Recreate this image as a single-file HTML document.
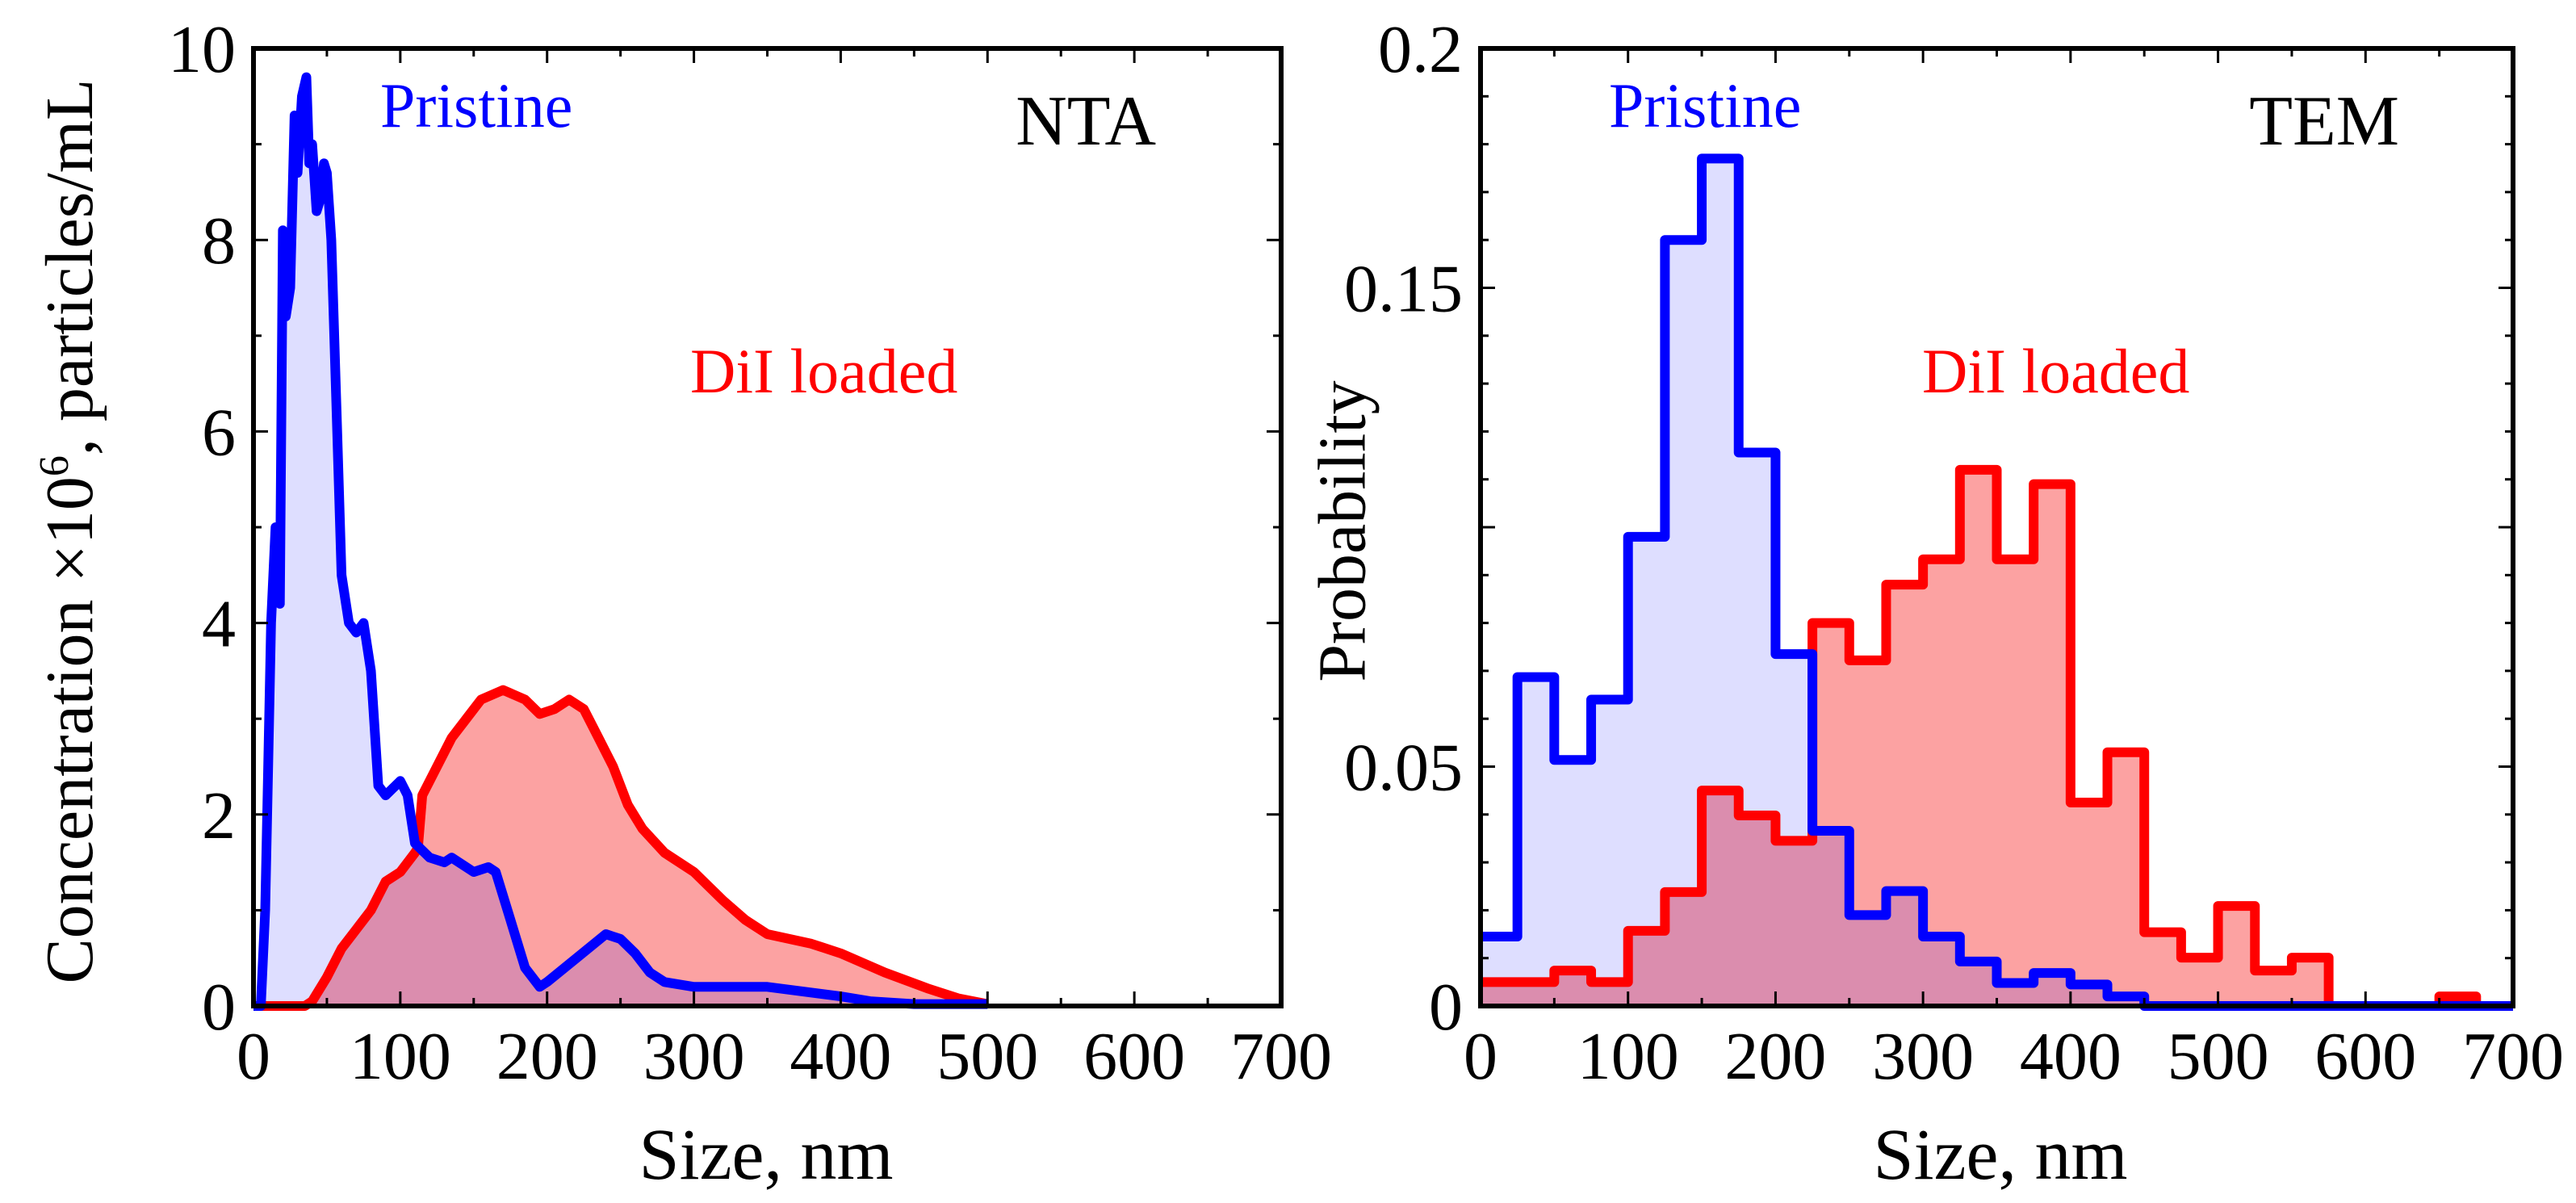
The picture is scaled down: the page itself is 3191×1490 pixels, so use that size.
<!DOCTYPE html>
<html><head><meta charset="utf-8"><style>
html,body{margin:0;padding:0;background:#fff;}
svg{display:block;font-family:"Liberation Serif",serif;}
</style></head><body>
<svg id="chart" width="3191" height="1490" viewBox="0 0 3191 1490" xmlns="http://www.w3.org/2000/svg">
<text x="114" y="658" font-size="84" text-anchor="middle" transform="rotate(-90 114 658)">Concentration ×10<tspan dy="-30" font-size="52">6</tspan><tspan dy="30">, particles/mL</tspan></text>
<text x="949" y="1460" font-size="90" text-anchor="middle">Size, nm</text>
<text x="1671" y="658" font-size="84" text-anchor="middle" transform="rotate(-90 1671 658)" dominant-baseline="middle">Probability</text>
<text x="2478" y="1460" font-size="90" text-anchor="middle">Size, nm</text>
<text x="471" y="157" font-size="78" fill="#0000ff">Pristine</text>
<text x="1432" y="179" font-size="88" text-anchor="end">NTA</text>
<text x="855" y="486" font-size="78" fill="#ff0000">DiI loaded</text>
<text x="1993" y="157" font-size="78" fill="#0000ff">Pristine</text>
<text x="2972" y="179" font-size="88" text-anchor="end">TEM</text>
<text x="2381" y="486" font-size="78" fill="#ff0000">DiI loaded</text>
</svg>
<script>
// NTA data (size nm, concentration x1e6)
const ntaPristineX = [0,5,8,10,12,15,18,20,22,25,28,30,33,36,38,40,43,45,48,50,53,57,60,65,70,75,80,85,90,100,105,110,120,130,135,150,160,165,175,185,195,200,220,240,250,260,270,280,300,350,400,420,450,500];
const ntaPristineY = [0,0,1,2.5,4,5,4.2,8.1,7.2,7.5,9.3,8.7,9.5,9.7,8.8,9.0,8.3,8.4,8.8,8.7,8.0,6,4.5,4,3.9,4.0,3.5,2.3,2.2,2.35,2.2,1.7,1.55,1.5,1.55,1.4,1.45,1.4,0.9,0.4,0.2,0.25,0.5,0.75,0.7,0.55,0.35,0.25,0.2,0.2,0.1,0.05,0.02,0.02];
const ntaDilX = [0,35,40,50,60,70,80,90,100,110,112,115,125,135,145,155,170,185,195,205,215,225,235,245,255,265,280,300,320,335,350,380,400,430,460,480,500];
const ntaDilY = [0,0,0.05,0.3,0.6,0.8,1.0,1.3,1.4,1.6,1.65,2.2,2.5,2.8,3.0,3.2,3.3,3.2,3.05,3.1,3.2,3.1,2.8,2.5,2.1,1.85,1.6,1.4,1.1,0.9,0.75,0.65,0.55,0.35,0.18,0.08,0.02];
// TEM histograms, 25 nm bins starting at 0
const temBinEdges = [0,25,50,75,100,125,150,175,200,225,250,275,300,325,350,375,400,425,450,475,500,525,550,575,600,625,650,675,700];
const temPristine = [0.0145,0.0687,0.0514,0.064,0.098,0.16,0.177,0.1156,0.0735,0.0366,0.019,0.024,0.0145,0.0093,0.0048,0.0069,0.0045,0.002,0,0,0,0,0,0,0,0,0,0];
const temDil = [0.005,0.005,0.0074,0.005,0.0157,0.0238,0.045,0.0398,0.0345,0.08,0.0722,0.088,0.0933,0.112,0.0933,0.109,0.0425,0.053,0.0154,0.0101,0.0209,0.0074,0.0101,0,0,0,0.002,0];
const ntaYTicks = ["0","2","4","6","8","10"];
const temYTicks = ["0","0.05","","0.15","0.2"];
const xTicks = ["0","100","200","300","400","500","600","700"];

const NS="http://www.w3.org/2000/svg";
const svg=document.getElementById('chart');
function mk(tag,attrs,parent){const e=document.createElementNS(NS,tag);for(const k in attrs)e.setAttribute(k,attrs[k]);(parent||svg).appendChild(e);return e;}

function panel(left,right,top,bottom,ymax,yMinorStep,yMajorStep,yLabels,name){
  const sx=v=>left+(v/700)*(right-left);
  const sy=v=>bottom-(v/ymax)*(bottom-top);
  const g=mk('g',{});
  
  
  return {sx,sy,g,left,right,top,bottom,ymax,yMinorStep,yMajorStep,yLabels,name};
}
function axes(p){
  const a=mk('g',{stroke:'#000','stroke-width':3});
  
  
  for(let i=0;i<=14;i++){const x=p.sx(i*50);const L=i%2?10:18;
    mk('line',{x1:x,x2:x,y1:p.bottom,y2:p.bottom-L},a);mk('line',{x1:x,x2:x,y1:p.top,y2:p.top+L},a);}
  const n=Math.round(p.ymax/p.yMinorStep);const per=Math.round(p.yMajorStep/p.yMinorStep);
  for(let i=0;i<=n;i++){const y=p.sy(i*p.yMinorStep);const L=i%per?10:18;
    mk('line',{x1:p.left,x2:p.left+L,y1:y,y2:y},a);mk('line',{x1:p.right,x2:p.right-L,y1:y,y2:y},a);}
  const r=mk('rect',{x:p.left,y:p.top,width:p.right-p.left,height:p.bottom-p.top,fill:'none',stroke:'#000','stroke-width':6});
  
  
  xTicks.forEach((t,i)=>{const e=mk('text',{x:p.sx(i*100),y:1336,'font-size':84,'text-anchor':'middle'});e.textContent=t;
    
    });
  p.yLabels.forEach((t,i)=>{if(!t)return;const e=mk('text',{x:p.left-22,y:p.sy(i*p.yMajorStep)+29,'font-size':84,'text-anchor':'end'});e.textContent=t;
    
    });
}
// NTA
const A=panel(314,1587,60,1246,10,1,2,ntaYTicks,'nta');
function curve(xs,ys,p){return xs.map((x,i)=>p.sx(x).toFixed(1)+','+p.sy(ys[i]).toFixed(1));}
const dPts=curve(ntaDilX,ntaDilY,A);const pPts=curve(ntaPristineX,ntaPristineY,A);
let e=mk('polygon',{points:dPts.join(' ')+' '+A.sx(500)+','+A.sy(0)+' '+A.sx(0)+','+A.sy(0),fill:'#fca2a2',stroke:'none'});


e=mk('polygon',{points:pPts.join(' ')+' '+A.sx(500)+','+A.sy(0)+' '+A.sx(0)+','+A.sy(0),fill:'rgb(0,0,255)','fill-opacity':0.13,stroke:'none'});


e=mk('polyline',{points:dPts.join(' '),fill:'none',stroke:'#ff0000','stroke-width':12,'stroke-linejoin':'round'});


e=mk('polyline',{points:pPts.join(' '),fill:'none',stroke:'#0000ff','stroke-width':12,'stroke-linejoin':'round'});


axes(A);
// TEM
const B=panel(1834,3113,60,1246,0.2,0.01,0.05,temYTicks,'tem');
function steps(vals,p){const pts=[];vals.forEach((v,i)=>{pts.push(p.sx(temBinEdges[i])+','+p.sy(v));pts.push(p.sx(temBinEdges[i+1])+','+p.sy(v));});return pts;}
const sD=steps(temDil,B), sP=steps(temPristine,B);
const base=' '+B.sx(700)+','+B.sy(0)+' '+B.sx(0)+','+B.sy(0);
e=mk('polygon',{points:sD.join(' ')+base,fill:'#fca2a2'});


e=mk('polygon',{points:sP.join(' ')+base,fill:'rgb(0,0,255)','fill-opacity':0.13});


e=mk('polyline',{points:sD.join(' '),fill:'none',stroke:'#ff0000','stroke-width':12,'stroke-linejoin':'round'});


e=mk('polyline',{points:sP.join(' '),fill:'none',stroke:'#0000ff','stroke-width':12,'stroke-linejoin':'round'});


axes(B);
</script>
</body></html>
